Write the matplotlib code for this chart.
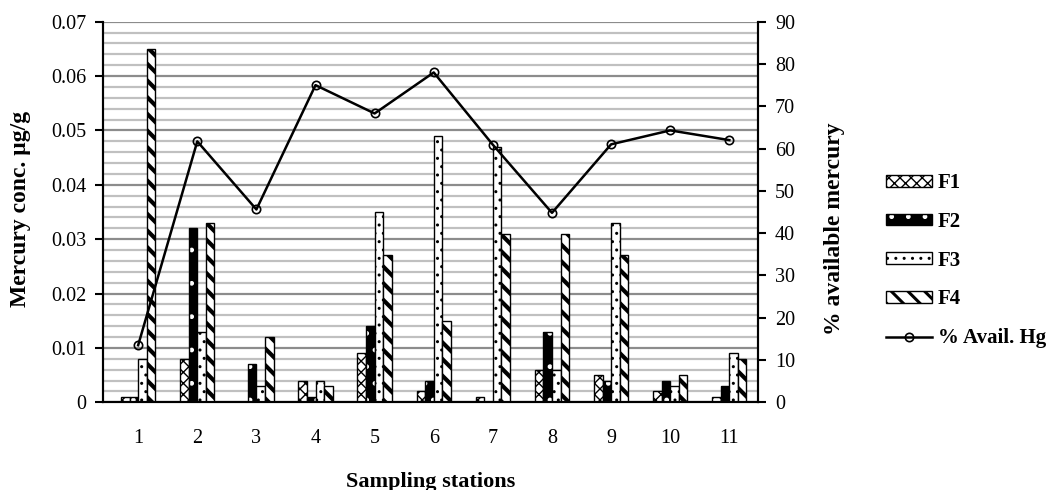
import numpy as np
import matplotlib
matplotlib.use("Agg")
import matplotlib.pyplot as plt
from matplotlib.patches import Patch, Rectangle
from matplotlib.lines import Line2D
from matplotlib.legend_handler import HandlerTuple, HandlerPatch

plt.rcParams['font.family'] = ['Liberation Serif', 'DejaVu Serif']
plt.rcParams['hatch.linewidth'] = 1.0

# --- data ---
stations = ['1', '2', '3', '4', '5', '6', '7', '8', '9', '10', '11']
f1 = [0.001, 0.008, 0.0, 0.004, 0.009, 0.002, 0.001, 0.006, 0.005, 0.002, 0.001]
f2 = [0.001, 0.032, 0.007, 0.001, 0.014, 0.004, 0.0, 0.013, 0.004, 0.004, 0.003]
f3 = [0.008, 0.013, 0.003, 0.004, 0.035, 0.049, 0.047, 0.006, 0.033, 0.003, 0.009]
f4 = [0.065, 0.033, 0.012, 0.003, 0.027, 0.015, 0.031, 0.031, 0.027, 0.005, 0.008]
avail_hg = [13.5, 61.7, 45.6, 75.0, 68.3, 78.0, 60.9, 44.8, 61.0, 64.3, 62.0]

x = np.arange(1, len(stations) + 1)
w = 0.145
STRIPE_LW = 3.0
STRIPE = '\\\\'


def thick_hatch(artist, lw=STRIPE_LW):
    # hatch linewidth may be read at init or at draw time, so cover both
    if hasattr(artist, 'set_hatch_linewidth'):
        artist.set_hatch_linewidth(lw)
    orig = artist.draw

    def draw(renderer):
        with plt.rc_context({'hatch.linewidth': lw}):
            orig(renderer)
    artist.draw = draw


fig = plt.figure(figsize=(10.56, 4.9), dpi=100)
ax = fig.add_axes([0.0978, 0.179, 0.6203, 0.7767])
ax2 = ax.twinx()

# F1 - checker pattern
ax.bar(x - 1.5 * w, f1, w, color='white', edgecolor='black', hatch='xxx', linewidth=1)
# F2 - black with white dots (hatch drawn in edge colour, then black outline on top)
ax.bar(x - 0.5 * w, f2, w, color='black', edgecolor='white', hatch='.', linewidth=0)
ax.bar(x - 0.5 * w, f2, w, fill=False, edgecolor='black', linewidth=1)
# F3 - white with black dots
ax.bar(x + 0.5 * w, f3, w, color='white', edgecolor='black', hatch='..', linewidth=1)
# F4 - thick diagonal stripes
with plt.rc_context({'hatch.linewidth': STRIPE_LW}):
    b4 = ax.bar(x + 1.5 * w, f4, w, color='white', edgecolor='black', hatch=STRIPE, linewidth=1)
for b in b4:
    thick_hatch(b)

ax.set_xlim(0.41, 11.49)
ax.set_ylim(0, 0.07)
ax.set_yticks(np.arange(0, 0.0701, 0.01))
ax.set_yticklabels(['0', '0.01', '0.02', '0.03', '0.04', '0.05', '0.06', '0.07'])
ax.set_yticks(np.arange(0, 0.0701, 0.002), minor=True)
ax.set_xticks(x)
ax.set_xticklabels(stations)
ax.set_axisbelow(True)
ax.grid(axis='y', which='minor', color='#c0c0c0', linewidth=1.6)
ax.grid(axis='y', which='major', color='#8c8c8c', linewidth=1.6)
ax.tick_params(axis='y', which='minor', length=0)
ax.tick_params(axis='y', which='major', direction='out', length=6, width=1.5, labelsize=14.5, pad=6)
ax.tick_params(axis='x', length=0, labelsize=14.5, pad=19)

for a in (ax, ax2):
    a.spines['top'].set_visible(False)
    a.spines['left'].set_linewidth(1.5)
    a.spines['right'].set_linewidth(1.5)
    a.spines['bottom'].set_linewidth(1.5)

ax.set_ylabel('Mercury conc. µg/g', fontsize=17, fontweight='bold')
ax.yaxis.set_label_coords(-0.11, 0.509)
ax.set_xlabel('Sampling stations', fontsize=16, fontweight='bold')
ax.xaxis.set_label_coords(0.5, -0.183)

# % available Hg on the secondary axis
ax2.plot(x, avail_hg, color='black', linewidth=1.8, marker='o', markersize=6,
         markerfacecolor='none', markeredgecolor='black', markeredgewidth=1.2)
ax2.set_ylim(0, 90)
ax2.set_yticks(np.arange(0, 91, 10))
ax2.tick_params(axis='y', direction='out', length=6, width=1.5, labelsize=14.5, pad=6)
ax2.set_ylabel('% available mercury', fontsize=17, fontweight='bold')
ax2.yaxis.set_label_coords(1.1, 0.455)


# legend
def stripe_patch(legend, orig_handle, xdescent, ydescent, width, height, fontsize):
    r = Rectangle((-xdescent, -ydescent), width, height, facecolor='white',
                  edgecolor='black', hatch=STRIPE)
    thick_hatch(r, 2.2)
    return r


h1 = Patch(facecolor='white', edgecolor='black', hatch='xxx')
h2 = (Patch(facecolor='black', edgecolor='white', hatch='.', linewidth=0),
      Patch(fill=False, edgecolor='black'))
h3 = Patch(facecolor='white', edgecolor='black', hatch='..')
h4 = Patch(facecolor='white', edgecolor='black', hatch=STRIPE)
h5 = Line2D([], [], color='black', linewidth=1.8, marker='o', markersize=6,
            markerfacecolor='none', markeredgewidth=1.2)
leg = fig.legend([h1, h2, h3, h4, h5], ['F1', 'F2', 'F3', 'F4', '% Avail. Hg'],
                 handler_map={tuple: HandlerTuple(ndivide=1, pad=0),
                              h4: HandlerPatch(patch_func=stripe_patch)},
                 loc='center left', bbox_to_anchor=(0.839, 0.468), frameon=False,
                 prop={'weight': 'bold', 'size': 15}, handlelength=2.2, handleheight=0.5,
                 handletextpad=0.3, labelspacing=0.9, borderpad=0, borderaxespad=0)

fig.savefig('out.png', dpi=100)
